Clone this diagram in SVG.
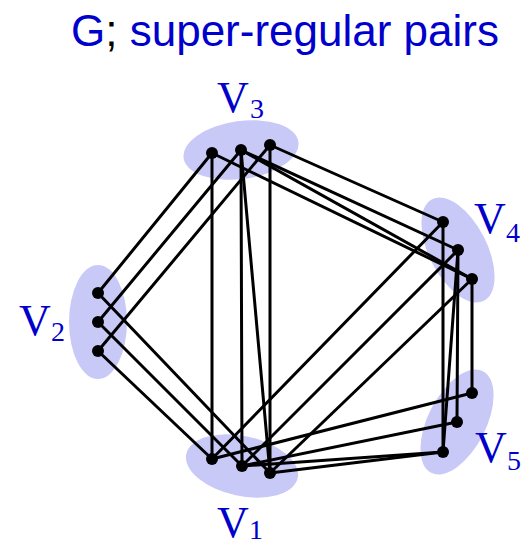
<svg xmlns="http://www.w3.org/2000/svg" width="529" height="548" viewBox="0 0 529 548">
<style>
.blob{fill:#c9c9f8;stroke:none}
.e{stroke:#000;stroke-width:3;fill:none;stroke-linecap:round}
.v{fill:#000}
.lab{font-family:"Liberation Serif",serif;fill:#0000cc}
.big{font-size:44px}
.sub{font-size:28px}
.title{font-family:"Liberation Sans",Arial,sans-serif;font-size:44px;fill:#0000cc}
</style>
<rect width="529" height="548" fill="#fff"/>
<text class="title" x="71" y="46">G<tspan fill="#000">;</tspan> super-regular pairs</text>
<g id="V3"><ellipse class="blob" cx="241" cy="150" rx="58" ry="29" transform="rotate(-8 241 150)"/><text class="lab big" x="217" y="112">V</text><text class="lab sub" x="250" y="118">3</text></g>
<g id="V1"><ellipse class="blob" cx="242" cy="466" rx="57" ry="30" transform="rotate(12 242 466)"/><text class="lab big" x="217" y="537">V</text><text class="lab sub" x="249" y="539">1</text></g>
<g id="V2"><ellipse class="blob" cx="98" cy="322" rx="29" ry="57"/><text class="lab big" x="19" y="335">V</text><text class="lab sub" x="51" y="341">2</text></g>
<g id="V4"><ellipse class="blob" cx="458" cy="250" rx="57" ry="29" transform="rotate(63 458 250)"/><text class="lab big" x="474" y="233">V</text><text class="lab sub" x="506" y="242">4</text></g>
<g id="V5"><ellipse class="blob" cx="457" cy="422" rx="57" ry="29" transform="rotate(-63 457 422)"/><text class="lab big" x="475" y="462">V</text><text class="lab sub" x="507" y="470">5</text></g>
<g id="edges" class="e">
<line x1="98" y1="293" x2="212" y2="153"/>
<line x1="98" y1="322" x2="241" y2="150"/>
<line x1="98" y1="351" x2="270" y2="145"/>
<line x1="98" y1="293" x2="270" y2="473"/>
<line x1="98" y1="322" x2="242" y2="466"/>
<line x1="98" y1="351" x2="212" y2="459"/>
<line x1="212" y1="153" x2="212" y2="459"/>
<line x1="241" y1="150" x2="242" y2="466"/>
<line x1="270" y1="145" x2="270" y2="473"/>
<line x1="241" y1="150" x2="270" y2="473"/>
<line x1="270" y1="145" x2="443" y2="222"/>
<line x1="241" y1="150" x2="458" y2="250"/>
<line x1="241" y1="150" x2="472" y2="279"/>
<line x1="212" y1="153" x2="472" y2="279"/>
<line x1="443" y1="222" x2="443" y2="452"/>
<line x1="458" y1="250" x2="457" y2="422"/>
<line x1="472" y1="279" x2="472" y2="393"/>
<line x1="458" y1="250" x2="443" y2="452"/>
<line x1="443" y1="222" x2="212" y2="459"/>
<line x1="458" y1="250" x2="242" y2="466"/>
<line x1="472" y1="279" x2="270" y2="473"/>
<line x1="472" y1="393" x2="212" y2="459"/>
<line x1="457" y1="422" x2="242" y2="466"/>
<line x1="443" y1="452" x2="242" y2="466"/>
<line x1="443" y1="452" x2="270" y2="473"/>
</g>
<g id="vertices" class="v">
<circle cx="212" cy="153" r="6"/><circle cx="241" cy="150" r="6"/><circle cx="270" cy="145" r="6"/>
<circle cx="443" cy="222" r="6"/><circle cx="458" cy="250" r="6"/><circle cx="472" cy="279" r="6"/>
<circle cx="98" cy="293" r="6"/><circle cx="98" cy="322" r="6"/><circle cx="98" cy="351" r="6"/>
<circle cx="212" cy="459" r="6"/><circle cx="242" cy="466" r="6"/><circle cx="270" cy="473" r="6"/>
<circle cx="472" cy="393" r="6"/><circle cx="457" cy="422" r="6"/><circle cx="443" cy="452" r="6"/>
</g>
</svg>
